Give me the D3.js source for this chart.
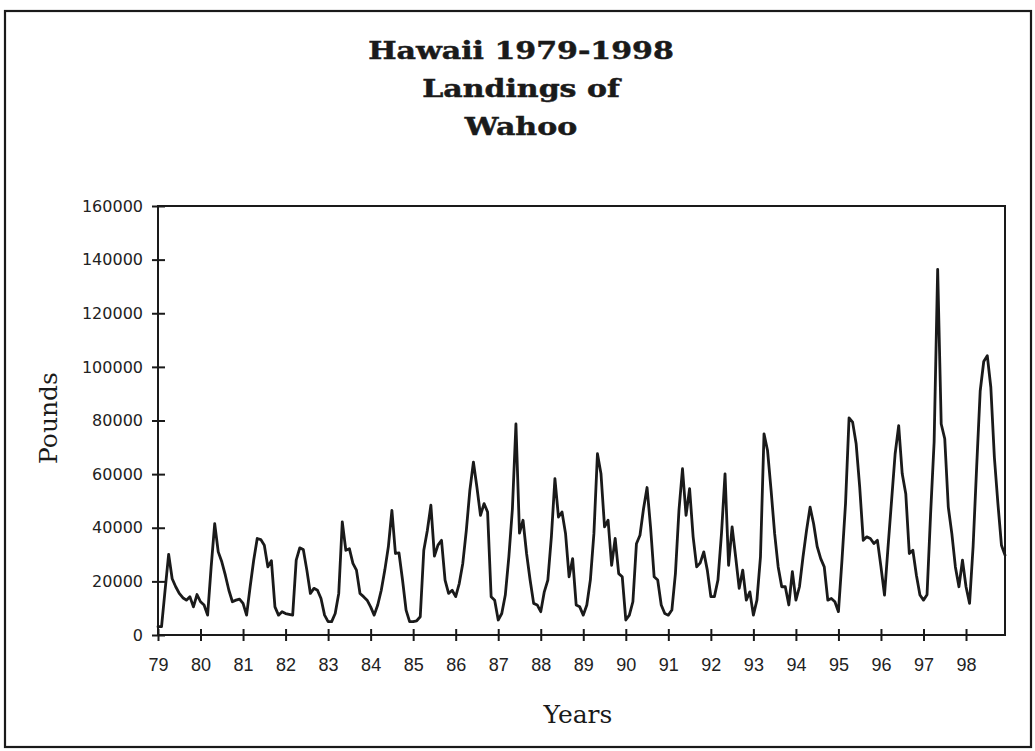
<!DOCTYPE html>
<html><head><meta charset="utf-8">
<script src="https://cdn.jsdelivr.net/npm/d3@7/dist/d3.min.js"></script>
<style>html,body{margin:0;padding:0;background:#fff;}svg{display:block;}</style>
</head><body>
<svg id="chart" width="1035" height="751"></svg>
<script>
// ---- data ----
const titleLines = ["Hawaii 1979-1998", "Landings of", "Wahoo"];
const yAxisTitle = "Pounds";
const xAxisTitle = "Years";
const yearLabels = ["79","80","81","82","83","84","85","86","87","88","89","90","91","92","93","94","95","96","97","98"];
const yTickValues = [0, 20000, 40000, 60000, 80000, 100000, 120000, 140000, 160000];
// monthly landings (pounds), Jan 1979 - Dec 1998
const landings79 = [3100, 3100, 16700, 30100, 21000, 18000, 15500, 13900, 13000, 14300, 10500, 15100];
const landings80 = [12400, 11200, 7400, 25400, 41500, 31000, 27300, 22300, 16700, 12400, 13000, 13400];
const landings81 = [11800, 7400, 18000, 27900, 36000, 35600, 33500, 25400, 27700, 10500, 7400, 8700];
const landings82 = [8000, 7700, 7400, 27900, 32500, 31900, 24200, 15500, 17400, 16700, 13600, 7400];
const landings83 = [5000, 5000, 8000, 15500, 42200, 31600, 32200, 26700, 24200, 15500, 14300, 13000];
const landings84 = [10500, 7400, 11200, 16700, 24200, 32900, 46500, 30400, 30600, 20500, 9300, 5000];
const landings85 = [5000, 5300, 6800, 31600, 39000, 48400, 29400, 33500, 35300, 20500, 15500, 16700];
const landings86 = [14300, 19200, 26700, 39000, 54000, 64500, 55000, 44600, 49000, 45900, 14300, 13000];
const landings87 = [5600, 8000, 14900, 29100, 47000, 78700, 38000, 42800, 30400, 20500, 11800, 11200];
const landings88 = [8700, 16100, 20500, 36600, 58300, 44000, 45900, 37800, 21700, 28500, 11200, 10500];
const landings89 = [7400, 11200, 20500, 37800, 67600, 60100, 40300, 42800, 26000, 36000, 22900, 21700];
const landings90 = [5600, 7400, 12400, 34000, 37200, 47100, 55000, 40000, 21700, 20500, 11200, 8000];
const landings91 = [7400, 9300, 22900, 46500, 62000, 44600, 54600, 36600, 25400, 26900, 31000, 24200];
const landings92 = [14300, 14300, 20500, 37800, 60100, 26000, 40300, 29100, 17400, 24200, 13000, 16100];
const landings93 = [7400, 13000, 29100, 75000, 68800, 53900, 37800, 25400, 18000, 18000, 11200, 23600];
const landings94 = [13000, 18000, 29100, 39000, 47700, 41500, 33000, 28500, 25400, 13000, 13600, 12400];
const landings95 = [8700, 27900, 49000, 81000, 79400, 71300, 55200, 35300, 36600, 36000, 34100, 35300];
const landings96 = [25400, 14900, 32900, 50200, 67600, 78100, 60100, 52700, 30400, 31600, 22300, 14900];
const landings97 = [13000, 15000, 45000, 72000, 136400, 78700, 73200, 47700, 37800, 25400, 18000, 27900];
const landings98 = [18000, 11800, 33000, 62600, 91000, 102000, 104200, 92400, 66300, 49000, 33500, 29800];

const byYear = [landings79, landings80, landings81, landings82, landings83, landings84, landings85,
  landings86, landings87, landings88, landings89, landings90, landings91, landings92, landings93,
  landings94, landings95, landings96, landings97, landings98];
const series = [];
byYear.forEach((arr, yi) => arr.forEach((v, m) => series.push({t: 79 + yi + m / 12, v})));

// ---- layout ----
const svg = d3.select("#chart");
const ink = "#1a1a1a";
const plot = {left: 158, right: 1005, top: 206, bottom: 635};

const x = d3.scaleLinear().domain([79, 98 + 11/12]).range([plot.left, plot.right]);
const y = d3.scaleLinear().domain([0, 160000]).range([plot.bottom, plot.top]);

svg.append("rect").attr("width", 1035).attr("height", 751).attr("fill", "#fff");

// outer frame
svg.append("rect").attr("x", 5).attr("y", 11).attr("width", 1026).attr("height", 736)
  .attr("fill", "none").attr("stroke", ink).attr("stroke-width", 2.2);

// titles
const titleY = [59, 97, 135];
titleLines.forEach((t, i) => {
  svg.append("text")
    .attr("transform", `translate(521,${titleY[i]}) scale(1.2,1)`)
    .attr("text-anchor", "middle")
    .attr("font-family", "DejaVu Serif")
    .attr("font-weight", "bold")
    .attr("font-size", 25)
    .attr("fill", ink)
    .attr("stroke", ink)
    .attr("stroke-width", 0.5)
    .text(t);
});

// plot frame
svg.append("rect").attr("x", plot.left).attr("y", plot.top)
  .attr("width", plot.right - plot.left).attr("height", plot.bottom - plot.top)
  .attr("fill", "none").attr("stroke", ink).attr("stroke-width", 2);

// y axis
const yAxis = svg.append("g").attr("transform", `translate(${plot.left},0)`)
  .call(d3.axisLeft(y).tickValues(yTickValues).tickFormat(d3.format("d")).tickSizeInner(6).tickSizeOuter(0).tickPadding(9));
yAxis.select(".domain").remove();
yAxis.selectAll(".tick line").attr("x1", 7).attr("x2", -6).attr("stroke", ink).attr("stroke-width", 2);
yAxis.selectAll(".tick text").attr("font-family", "DejaVu Sans").attr("font-size", 16).attr("fill", "#222");

// x axis
const xAxis = svg.append("g").attr("transform", `translate(0,${plot.bottom})`)
  .call(d3.axisBottom(x).tickValues(d3.range(79, 99)).tickFormat((d, i) => yearLabels[i]).tickSizeInner(6).tickSizeOuter(0).tickPadding(17));
xAxis.select(".domain").remove();
xAxis.selectAll(".tick line").attr("y1", -6).attr("y2", 6).attr("stroke", ink).attr("stroke-width", 2);
xAxis.selectAll(".tick text").attr("font-family", "Liberation Sans").attr("font-size", 18).attr("fill", "#222");

// axis titles
svg.append("text").attr("transform", "translate(57,418) rotate(-90)")
  .attr("text-anchor", "middle").attr("font-family", "DejaVu Serif").attr("font-size", 25)
  .attr("fill", ink).text(yAxisTitle);
svg.append("text").attr("x", 578).attr("y", 723)
  .attr("text-anchor", "middle").attr("font-family", "DejaVu Serif").attr("font-size", 25)
  .attr("fill", ink).text(xAxisTitle);

// data line
const line = d3.line().x(d => x(d.t)).y(d => y(d.v));
svg.append("path").datum(series).attr("d", line)
  .attr("fill", "none").attr("stroke", ink).attr("stroke-width", 2.8)
  .attr("stroke-linejoin", "round").attr("stroke-linecap", "round");
</script>
</body></html>
